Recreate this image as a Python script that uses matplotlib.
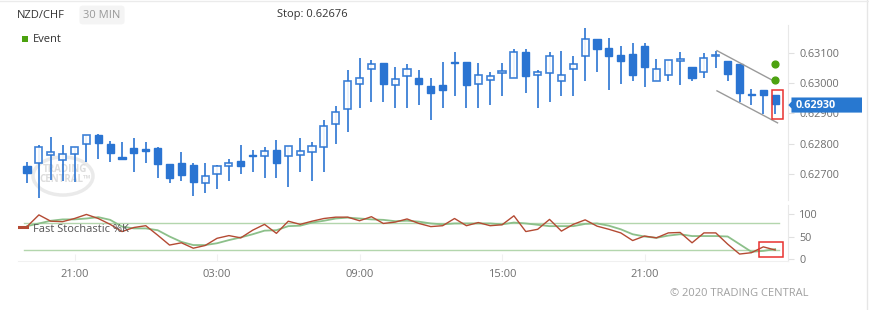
import matplotlib
matplotlib.use("Agg")
import matplotlib.pyplot as plt
from matplotlib.patches import Rectangle, Ellipse, Polygon
from matplotlib.transforms import blended_transform_factory
import numpy as np

plt.rcParams['font.family'] = ['Open Sans', 'DejaVu Sans']

# 30 min candles, 19:00 -> 02:30 (two days later)
opens = [0.62726, 0.62736, 0.62763, 0.62746, 0.62766, 0.62799, 0.62829, 0.62799,
         0.62756, 0.62786, 0.62782, 0.62786, 0.62733, 0.62736, 0.62729, 0.62670,
         0.62700, 0.62726, 0.62742, 0.62763, 0.62760, 0.62779, 0.62759, 0.62763,
         0.62773, 0.62789, 0.62865, 0.62915, 0.62998, 0.63047, 0.63067, 0.62994,
         0.63024, 0.63018, 0.62991, 0.62994, 0.63071, 0.63071, 0.62998, 0.63011,
         0.63034, 0.63018, 0.63104, 0.63027, 0.63034, 0.63008, 0.63047, 0.63090,
         0.63147, 0.63117, 0.63094, 0.63097, 0.63124, 0.63008, 0.63027, 0.63074,
         0.63054, 0.63037, 0.63090, 0.63074, 0.63064, 0.62965, 0.62978, 0.62961]
highs = [0.62739, 0.62796, 0.62822, 0.62796, 0.62789, 0.62829, 0.62832, 0.62809,
         0.62806, 0.62819, 0.62806, 0.62789, 0.62733, 0.62773, 0.62736, 0.62736,
         0.62729, 0.62749, 0.62796, 0.62779, 0.62789, 0.62812, 0.62792, 0.62819,
         0.62806, 0.62878, 0.62925, 0.63044, 0.63084, 0.63077, 0.63067, 0.63054,
         0.63064, 0.63044, 0.63018, 0.63071, 0.63104, 0.63071, 0.63067, 0.63037,
         0.63067, 0.63114, 0.63114, 0.63044, 0.63104, 0.63107, 0.63090, 0.63183,
         0.63147, 0.63150, 0.63124, 0.63133, 0.63133, 0.63080, 0.63077, 0.63104,
         0.63054, 0.63100, 0.63107, 0.63074, 0.63064, 0.62981, 0.62978, 0.62961]
lows = [0.62670, 0.62620, 0.62680, 0.62676, 0.62673, 0.62739, 0.62749, 0.62739,
        0.62749, 0.62706, 0.62736, 0.62686, 0.62670, 0.62676, 0.62627, 0.62637,
        0.62650, 0.62676, 0.62700, 0.62706, 0.62686, 0.62686, 0.62657, 0.62706,
        0.62676, 0.62706, 0.62799, 0.62839, 0.62918, 0.62938, 0.62938, 0.62918,
        0.62918, 0.62928, 0.62878, 0.62918, 0.62958, 0.62918, 0.62918, 0.62928,
        0.62958, 0.63018, 0.62968, 0.62918, 0.62938, 0.62958, 0.62958, 0.63008,
        0.63037, 0.62978, 0.62998, 0.63008, 0.62988, 0.63008, 0.63008, 0.62994,
        0.63008, 0.63018, 0.63051, 0.63008, 0.62938, 0.62928, 0.62898, 0.62898]
closes = [0.62703, 0.62789, 0.62773, 0.62766, 0.62789, 0.62829, 0.62802, 0.62769,
          0.62749, 0.62769, 0.62776, 0.62733, 0.62686, 0.62696, 0.62673, 0.62693,
          0.62726, 0.62736, 0.62726, 0.62760, 0.62776, 0.62736, 0.62792, 0.62776,
          0.62792, 0.62859, 0.62905, 0.63008, 0.63018, 0.63064, 0.62998, 0.63014,
          0.63047, 0.62998, 0.62968, 0.62978, 0.63067, 0.62994, 0.63027, 0.63024,
          0.63041, 0.63104, 0.63024, 0.63037, 0.63090, 0.63027, 0.63064, 0.63147,
          0.63114, 0.63090, 0.63074, 0.63027, 0.63054, 0.63047, 0.63077, 0.63080,
          0.63018, 0.63084, 0.63094, 0.63031, 0.62968, 0.62961, 0.62961, 0.62930]

stoch_k = [72, 98, 84, 83, 90, 99, 90, 77, 61, 70, 74, 53, 31, 36, 24, 30,
           46, 52, 47, 64, 77, 57, 84, 77, 84, 90, 93, 93, 85, 94, 79, 82,
           89, 79, 72, 74, 90, 74, 81, 74, 76, 96, 61, 66, 88, 62, 77, 87,
           73, 66, 58, 41, 51, 47, 58, 59, 36, 58, 58, 33, 11, 14, 27, 20]
stoch_d = [73, 79, 85, 88, 88, 90, 93, 87, 72, 68, 68, 64, 50, 38, 31, 31,
           35, 42, 48, 55, 63, 64, 73, 74, 81, 85, 90, 92, 90, 88, 87, 84,
           85, 83, 79, 77, 79, 79, 79, 79, 77, 81, 79, 76, 73, 73, 73, 78,
           79, 74, 66, 55, 50, 47, 52, 55, 51, 51, 51, 50, 33, 16, 18, 22]

xtick_pos = [4, 16, 28, 40, 52]
xtick_labels = ['21:00', '03:00', '09:00', '15:00', '21:00']
price_ticks = [0.627, 0.628, 0.629, 0.630, 0.631]

channel_x = [58.1, 63.2]
channel_upper = [0.63108, 0.63001]
channel_lower = [0.62975, 0.62869]
event_x = [63, 63]
event_y = [0.63063, 0.63011]
last_price = 0.62930
stop_price = 0.62676

blue = '#2A74D2'
grey_txt = '#6E6E6E'
n = len(opens)
idx = np.arange(n)

fig = plt.figure(figsize=(8.7, 3.1), dpi=100)
W, H = 870, 310

def fx(px):
    return px / W

def fy(py):
    return 1 - py / H

# ---------- price panel ----------
ax = fig.add_axes([fx(18), fy(200), fx(788 - 18), (200 - 25) / H])
ax.set_xlim(-0.76, 64.08)
ax.set_ylim(0.626136, 0.631930)
ax.patch.set_visible(False)
for s in ['top', 'left', 'bottom']:
    ax.spines[s].set_visible(False)
ax.spines['right'].set_color('#E8E8E8')

# watermark
ax.add_patch(Ellipse((3.03, 0.62693), 5.05, 0.00126, facecolor='none',
                     edgecolor='#EAEAEA', lw=2.5, zorder=0))
ax.text(3.2, 0.62697, 'TRADING\nCENTRAL\u2122', ha='center', va='center', fontsize=7,
        color='#DDDDDD', fontweight='bold', linespacing=0.9, zorder=0)

o = np.array(opens); c = np.array(closes)
bull = c >= o
ax.vlines(idx, lows, highs, color=blue, lw=1.4, alpha=0.85, zorder=2)
bottoms = np.minimum(o, c)
heights = np.maximum(np.abs(c - o), 0.00004)
ax.bar(idx[bull], heights[bull], bottom=bottoms[bull], width=0.6,
       facecolor='white', edgecolor=blue, lw=1.2, alpha=0.9, zorder=3)
ax.bar(idx[~bull], heights[~bull], bottom=bottoms[~bull], width=0.6,
       facecolor=blue, edgecolor=blue, lw=1.0, zorder=3)

ax.plot(channel_x, channel_upper, color='#9A9A9A', lw=1.0, zorder=4)
ax.plot(channel_x, channel_lower, color='#9A9A9A', lw=1.0, zorder=4)
ax.scatter(event_x, event_y, s=24, color='#4CA20F', zorder=5)
ax.add_patch(Rectangle((62.74, 0.62882), 0.92, 0.00096, facecolor='none',
                       edgecolor='#E8312F', lw=1.1, zorder=6))

ax.set_xticks([])
ax.yaxis.tick_right()
ax.set_yticks(price_ticks)
ax.set_yticklabels(['%.5f' % p for p in price_ticks])
ax.tick_params(axis='y', colors='#E0E0E0', labelcolor=grey_txt, length=4,
               pad=4, labelsize=7.8)

# last price label
tr = blended_transform_factory(ax.transAxes, ax.transData)
hh = 0.00025
lp = last_price - 0.00002
poly = Polygon([[1.0005, lp], [1.0045, lp + hh * 0.45],
                [1.0045, lp + hh], [1.0961, lp + hh],
                [1.0961, lp - hh], [1.0045, lp - hh],
                [1.0045, lp - hh * 0.45]], closed=True,
               facecolor='#2878D0', edgecolor='none', transform=tr,
               clip_on=False, zorder=10)
ax.add_patch(poly)
ax.text(1.0105, lp, '%.5f' % last_price, transform=tr, ha='left',
        va='center', color='white', fontsize=7.8, fontweight='bold', zorder=11)

# ---------- stochastic panel ----------
ax2 = fig.add_axes([fx(18), fy(261), fx(788 - 18), (261 - 205) / H])
ax2.set_xlim(-0.76, 64.08)
ax2.set_ylim(-4.44, 120)
ax2.patch.set_visible(False)
for s in ['top', 'left']:
    ax2.spines[s].set_visible(False)
ax2.spines['right'].set_color('#E8E8E8')
ax2.spines['bottom'].set_color('#F0F0F0')

ax2.plot([-0.25, 63.3], [80, 80], color='#B3D6AD', lw=1.0, zorder=1)
ax2.plot([-0.25, 63.3], [20, 20], color='#B3D6AD', lw=1.0, zorder=1)
ax2.plot(idx, stoch_d, color='#8CC08A', lw=1.3, zorder=2)
ax2.plot(idx, stoch_k, color='#B44A33', lw=1.0, zorder=3)
ax2.plot([-0.7, 0], [72, 72], color='#B44A33', lw=2.2, zorder=3)
ax2.text(0.5, 66, 'Fast Stochastic %K', fontsize=8, color='#555555',
         va='center', ha='left', zorder=4)
ax2.add_patch(Rectangle((61.64, 5.1), 2.02, 33.3, facecolor='none',
                        edgecolor='#E8312F', lw=1.1, zorder=6))

ax2.yaxis.tick_right()
ax2.set_yticks([0, 50, 100])
ax2.tick_params(axis='y', colors='#E0E0E0', labelcolor=grey_txt, length=4,
                pad=4, labelsize=7.8)
ax2.set_xticks(xtick_pos)
ax2.set_xticklabels(xtick_labels)
ax2.tick_params(axis='x', colors='#F0F0F0', labelcolor=grey_txt, length=5,
                direction='in', pad=6, labelsize=8)

# ---------- header & footer ----------
fig.text(fx(17), fy(15), 'NZD/CHF', fontsize=8, color='#333333', va='center')
fig.text(fx(102), fy(15), '30 MIN', fontsize=8, color='#9A9A9A', va='center',
         ha='center', bbox=dict(boxstyle='round,pad=0.35,rounding_size=0.3',
                                facecolor='#F4F4F4', edgecolor='none'))
fig.text(fx(277), fy(15), 'Stop: %.5f' % stop_price, fontsize=8, color='#333333',
         va='center')
fig.patches.append(Rectangle((fx(22), fy(42)), fx(6), 6 / H, facecolor='#4CA20F',
                             transform=fig.transFigure, figure=fig))
fig.text(fx(33), fy(39), 'Event', fontsize=8, color='#333333', va='center')
fig.text(fx(670), fy(294), '\u00a9 2020 TRADING CENTRAL', fontsize=8,
         color='#A0A0A0', va='center')

fig.lines.append(plt.Line2D([fx(867.5), fx(867.5)], [0, 1], color='#E6E6E6',
                            lw=1, transform=fig.transFigure, figure=fig))
fig.lines.append(plt.Line2D([0, 1], [fy(1), fy(1)], color='#EBEBEB',
                            lw=1, transform=fig.transFigure, figure=fig))

fig.savefig('out.png', dpi=100)
